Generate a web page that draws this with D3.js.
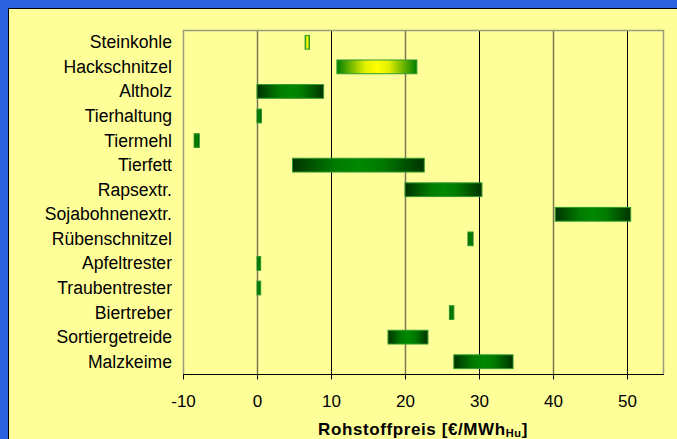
<!DOCTYPE html>
<html>
<head>
<meta charset="utf-8">
<script src="https://cdn.jsdelivr.net/npm/d3@7"></script>
<style>
  html, body { margin: 0; padding: 0; background: #2a62e0; }
  svg { display: block; }
</style>
</head>
<body>
<svg id="chart" width="677" height="439"></svg>
<script>
const categories = ["Steinkohle","Hackschnitzel","Altholz","Tierhaltung","Tiermehl","Tierfett","Rapsextr.","Sojabohnenextr.","Rübenschnitzel","Apfeltrester","Traubentrester","Biertreber","Sortiergetreide","Malzkeime"];
const minValues = [6.5, 10.8, 0.0, 0.0, -8.5, 4.8, 20.0, 40.3, 28.5, 0.0, 0.0, 26.0, 17.7, 26.6];
const maxValues = [7.1, 21.6, 9.0, 0.6, -7.8, 22.6, 30.4, 50.5, 29.2, 0.5, 0.5, 26.6, 23.1, 34.6];
const fuelType = ["fossil","wood","green","green","green","green","green","green","green","green","green","green","green","green"];
const xTicks = [-10, 0, 10, 20, 30, 40, 50];

const svg = d3.select("#chart");
const font = "'Liberation Sans', Arial, sans-serif";

// panel
svg.append("rect").attr("x", 0).attr("y", 0).attr("width", 677).attr("height", 439).attr("fill", "#2a62e0");
svg.append("rect").attr("x", 8.5).attr("y", 8.5).attr("width", 700).attr("height", 500)
  .attr("fill", "#ffff99").attr("stroke", "#000").attr("stroke-width", 1);

const x = d3.scaleLinear().domain([-10, 55]).range([183, 664]);
const y = d3.scaleBand().domain(categories).range([30, 374]).paddingInner(0.44).paddingOuter(0.22);

const defs = svg.append("defs");
const gGreen = defs.append("linearGradient").attr("id", "gGreen").attr("x1", "0%").attr("x2", "100%").attr("y1", "0%").attr("y2", "0%");
[[0, "#003300"], [0.32, "#007a00"], [0.5, "#008800"], [0.68, "#007a00"], [1, "#003300"]].forEach(s =>
  gGreen.append("stop").attr("offset", s[0]).attr("stop-color", s[1]));
const gYellow = defs.append("linearGradient").attr("id", "gYellow").attr("x1", "0%").attr("x2", "100%").attr("y1", "0%").attr("y2", "0%");
[[0, "#008000"], [0.35, "#e0ef00"], [0.5, "#ffff00"], [0.65, "#e0ef00"], [1, "#008000"]].forEach(s =>
  gYellow.append("stop").attr("offset", s[0]).attr("stop-color", s[1]));

// gridlines
svg.append("g").selectAll("line").data(xTicks.filter(t => t > -10)).join("line")
  .attr("x1", d => Math.round(x(d)) + 0.5).attr("x2", d => Math.round(x(d)) + 0.5)
  .attr("y1", 30).attr("y2", 374)
  .attr("stroke", d => (d / 10) % 2 === 0 ? "#7a7a5a" : "#000")
  .attr("stroke-width", d => (d / 10) % 2 === 0 ? 1.5 : 1);

// plot border (gray)
svg.append("path")
  .attr("d", `M${x(-10)+0.5},374 V30.5 H${x(55)-0.5} V374`)
  .attr("fill", "none").attr("stroke", "#9a9a80").attr("stroke-width", 1.5);

// bars
const data = categories.map((c, i) => ({ c, lo: minValues[i], hi: maxValues[i], t: fuelType[i] }));
svg.append("g").selectAll("rect").data(data).join("rect")
  .attr("x", d => x(d.lo))
  .attr("y", d => y(d.c))
  .attr("width", d => x(d.hi) - x(d.lo))
  .attr("height", y.bandwidth())
  .attr("fill", d => d.t === "green" ? "url(#gGreen)" : "url(#gYellow)")
  .attr("stroke", "#2e9a2e").attr("stroke-width", 1);

// x axis
const axis = svg.append("g").attr("transform", "translate(0,374.5)")
  .call(d3.axisBottom(x).tickValues(xTicks).tickSize(5).tickSizeOuter(0).tickFormat(d => String(d)));
axis.select(".domain").attr("stroke", "#000").attr("d", `M${x(-10)},0H${x(55)}`);
axis.selectAll(".tick line").attr("stroke", "#000");
axis.selectAll(".tick text").attr("font-family", font).attr("font-size", 17).attr("fill", "#000")
  .attr("dy", 0).attr("y", 32);

// y labels
svg.append("g").selectAll("text").data(categories).join("text")
  .attr("x", 172).attr("y", d => y(d) + y.bandwidth() / 2 + 6)
  .attr("text-anchor", "end").attr("font-family", font).attr("font-size", 17.6).attr("fill", "#000")
  .text(d => d);

// axis title
const title = svg.append("text").attr("x", 423).attr("y", 435).attr("text-anchor", "middle")
  .attr("font-family", font).attr("font-size", 17).attr("font-weight", "bold").attr("letter-spacing", 0.6).attr("fill", "#000");
title.append("tspan").text("Rohstoffpreis [€/MWh");
title.append("tspan").attr("font-size", 11).attr("dy", 2).text("Hu");
title.append("tspan").attr("dy", -2).text("]");
</script>
</body>
</html>
